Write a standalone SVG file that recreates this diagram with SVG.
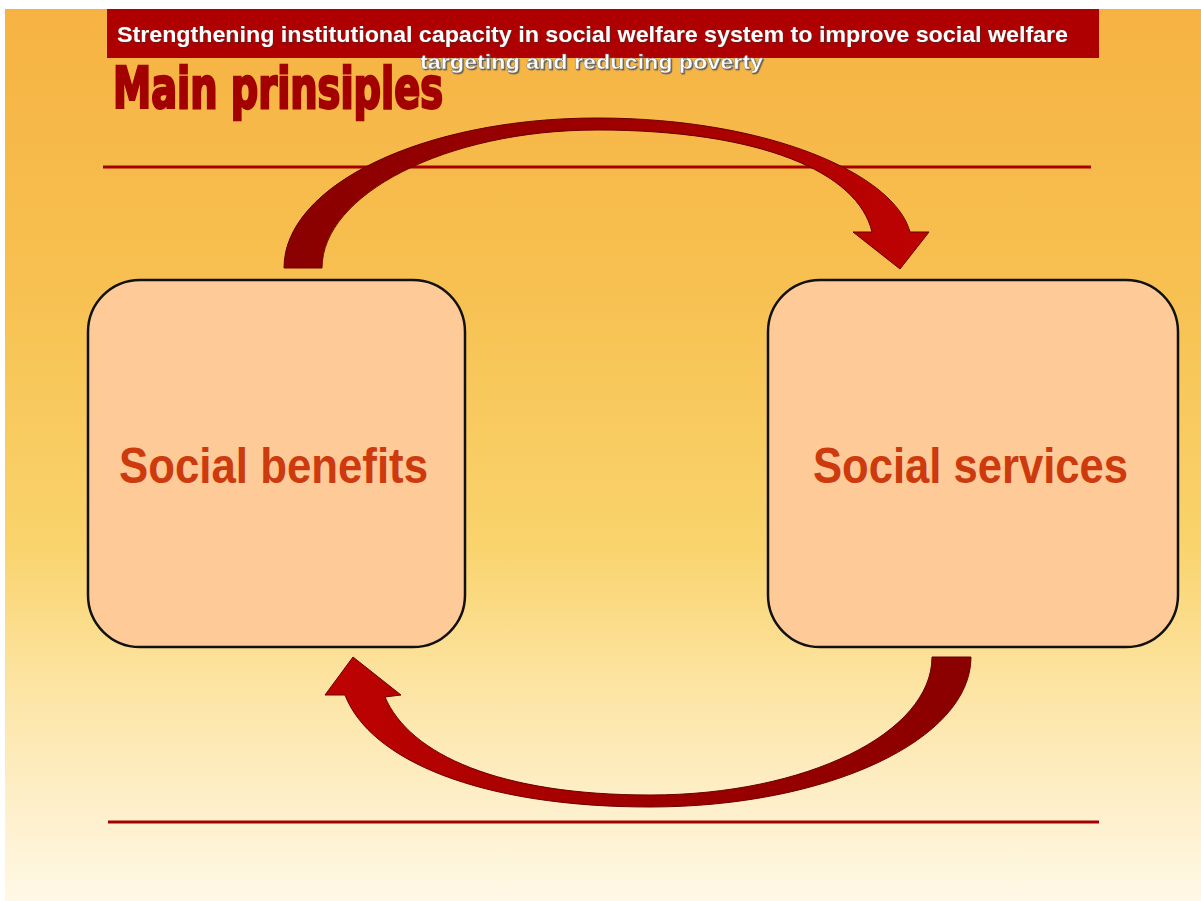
<svg xmlns="http://www.w3.org/2000/svg" width="1201" height="901" viewBox="0 0 1201 901">
<defs>
<linearGradient id="bg" x1="0" y1="0" x2="0" y2="1">
<stop offset="0" stop-color="#F6B343"/>
<stop offset="0.3" stop-color="#F7C050"/>
<stop offset="0.6" stop-color="#F9D36C"/>
<stop offset="0.75" stop-color="#FCE3A0"/>
<stop offset="0.9" stop-color="#FEF0CC"/>
<stop offset="1" stop-color="#FFF8E6"/>
</linearGradient>
<linearGradient id="arrTop" x1="0" y1="0" x2="1" y2="0">
<stop offset="0" stop-color="#8A0000"/>
<stop offset="0.5" stop-color="#9E0000"/>
<stop offset="1" stop-color="#BE0202"/>
</linearGradient>
<linearGradient id="arrBot" x1="1" y1="0" x2="0" y2="0">
<stop offset="0" stop-color="#8A0000"/>
<stop offset="0.5" stop-color="#9E0000"/>
<stop offset="1" stop-color="#BE0202"/>
</linearGradient>
<filter id="shadow1" x="-5%" y="-30%" width="110%" height="160%">
<feDropShadow dx="1" dy="1" stdDeviation="0.4" flood-color="#333" flood-opacity="0.6"/>
</filter>
<filter id="shadow2" x="-5%" y="-30%" width="110%" height="160%">
<feDropShadow dx="1.2" dy="1.2" stdDeviation="0.3" flood-color="#555" flood-opacity="0.9"/>
</filter>
<style>
.box{fill:#FDCA98;stroke:#111;stroke-width:2.5}
.lbl{font-family:"Liberation Sans",Arial,sans-serif;font-weight:bold;font-size:50px;fill:#CC3A0E;text-anchor:middle}
.rule{stroke:#A40000;stroke-width:3}
.arrow{stroke:#6A0000;stroke-width:1}
.hdr{font-family:"Liberation Sans",Arial,sans-serif;font-weight:bold;fill:#fff}
</style>
</defs>
<rect x="0" y="0" width="1201" height="901" fill="#fff"/>
<rect x="5" y="9" width="1196" height="892" fill="url(#bg)"/>
<g id="header">
<rect x="107" y="9" width="992" height="49" fill="#AE0000"/>
<text class="hdr" x="117" y="42" font-size="22" textLength="951" lengthAdjust="spacingAndGlyphs" filter="url(#shadow1)">Strengthening institutional capacity in social welfare system to improve social welfare</text>
<text class="hdr" x="420" y="69" font-size="21" textLength="343" lengthAdjust="spacingAndGlyphs" stroke="#777" stroke-width="0.4" filter="url(#shadow2)">targeting and reducing poverty</text>
</g>
<g id="title">
<text x="113" y="108" font-family="'DejaVu Sans Condensed','Liberation Sans Narrow','Liberation Sans',sans-serif" font-weight="bold" font-size="57" fill="#A30000" stroke="#A30000" stroke-width="2.5" textLength="330" lengthAdjust="spacingAndGlyphs">Main prinsiples</text>
</g>
<g id="rules">
<line class="rule" x1="103" y1="167" x2="1091" y2="167"/>
<line class="rule" x1="108" y1="822" x2="1099" y2="822"/>
</g>
<g id="connectors">
<path id="arrow-top" class="arrow" fill="url(#arrTop)" d="M284,268 C284,185 424,118 597,118 C770,118 895,175 910,232 L929,232 L900,269 L853,232 L872,232 C858,172 760,130 597,130 C445,130 322,195 322,268 Z"/>
<path id="arrow-bottom" class="arrow" fill="url(#arrBot)" d="M932,657 L971,657 C971,740 827,807 650,807 C480,807 370,760 345,695 L325,695 L353,657 L401,695 L385,697 C410,755 500,795 650,795 C806,795 932,733 932,657 Z"/>
</g>
<g id="node-benefits">
<rect class="box" x="88" y="280" width="377" height="367" rx="52" ry="52"/>
<text class="lbl" x="273.5" y="483" textLength="309" lengthAdjust="spacingAndGlyphs">Social benefits</text>
</g>
<g id="node-services">
<rect class="box" x="768" y="280" width="410" height="367" rx="52" ry="52"/>
<text class="lbl" x="970.5" y="483" textLength="315" lengthAdjust="spacingAndGlyphs">Social services</text>
</g>
</svg>
